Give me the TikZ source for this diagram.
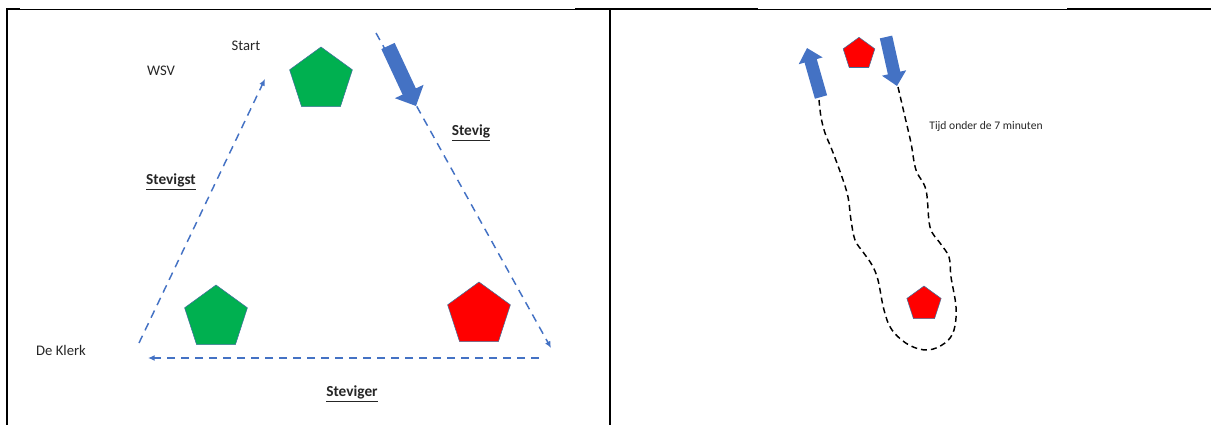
\documentclass[tikz,border=0pt]{standalone}
\usepackage{fontspec}
\setmainfont{Carlito}
\usepackage{xcolor}
\usetikzlibrary{shapes.geometric}
\usetikzlibrary{arrows.meta}
\usetikzlibrary{positioning}

\definecolor{ofblue}{HTML}{4472C4}
\definecolor{ofgreen}{HTML}{00B050}
\definecolor{ofred}{HTML}{FF0000}
\definecolor{ofline}{HTML}{41719C}
\definecolor{txtgray}{HTML}{262626}

\begin{document}
\begin{tikzpicture}[
  x=0.75pt, y=-0.75pt,
  every node/.style={font=\fontsize{11}{13}\selectfont, text=txtgray, inner sep=1pt},
  cone/.style={regular polygon, regular polygon sides=5, draw=ofline, line width=0.4pt,
    inner sep=0pt, outer sep=0pt, minimum size=#1},
  route/.style={ofblue, dash pattern=on 6pt off 4.5pt, line width=1.1pt,
    -{Latex[length=5pt, width=4.5pt]}},
  lapline/.style={black, dash pattern=on 4.5pt off 3pt, line width=1.1pt},
  bigarrow/.style={ofblue, line width=11pt, -{Triangle[length=12pt, width=23pt]}},
  smallarrow/.style={ofblue, line width=9.5pt, -{Triangle[length=10pt, width=18pt]}},
  label/.style={font=\bfseries\fontsize{11.5}{13}\selectfont},
]
\useasboundingbox (0,0) rectangle (1211,425);

  % Table lines
  \draw[line width=0.75pt] (7,9) -- (1211,9);
  \draw[line width=1.5pt] (6,9) -- (20,9);
  \draw[line width=1.5pt] (575,9) -- (758,9);
  \draw[line width=1.5pt] (1067,9) -- (1211,9);
  \draw[line width=1.5pt] (7,8) -- (7,425);
  \draw[line width=1.5pt] (610,8) -- (610,425);

  % Left panel: cones
  \node[cone=49.5pt, fill=ofgreen] (topcone) at (321,80) {};
  \node[cone=49.5pt, fill=ofgreen] (leftcone) at (216,318) {};
  \node[cone=49.5pt, fill=ofred] (rightcone) at (479,315) {};

  % Left panel: texts
  \node (start) at (246,46) {Start};
  \node (wsv) at (161,71) {WSV};
  \node (klerk) at (61,350) {De Klerk};
  \node[label] (stevig) at (471,133) {\underline{Stevig}};
  \node[label] (stevigst) at (171,182) {\underline{Stevigst}};
  \node[label] (steviger) at (352,394) {\underline{Steviger}};

  % Left panel: route
  \coordinate (ra) at (376,33);
  \coordinate (rb) at (551,348);
  \coordinate (rc) at (539,358);
  \coordinate (rd) at (148,358);
  \coordinate (re) at (139,343);
  \coordinate (rf) at (265,79);
  \draw[route] (ra) -- (rb);
  \draw[route] (rc) -- (rd);
  \draw[route] (re) -- (rf);

  \coordinate (ba) at (388,46);
  \coordinate (bb) at (416,106);
  \draw[bigarrow] (ba) -- (bb);

  % Right panel: cones
  \node[cone=25pt, fill=ofred] (farcone) at (859,54) {};
  \node[cone=27pt, fill=ofred] (turncone) at (924,304) {};

  % Right panel: lap
  \draw[lapline] plot[smooth, tension=0.6] coordinates {
    (898,87) (905,117) (911,143) (916,170) (926,190) (930,227) (940,243)
    (949,257) (951,277) (956,307) (954,330) (945,343) (928,350) (909,345)
    (892,330) (884,310) (878,280) (872,265) (863,252) (855,240) (851,220)
    (848,197) (842,177) (832,150) (825,133) (821,117) (819,100)};

  \coordinate (ua) at (821,97);
  \coordinate (ub) at (807,48);
  \coordinate (da) at (886,37);
  \coordinate (db) at (897,86);
  \draw[smallarrow] (ua) -- (ub);
  \draw[smallarrow] (da) -- (db);

  \node[font=\fontsize{8.7}{10}\selectfont] (tijd) at (986,126) {Tijd onder de 7 minuten};
\end{tikzpicture}
\end{document}
